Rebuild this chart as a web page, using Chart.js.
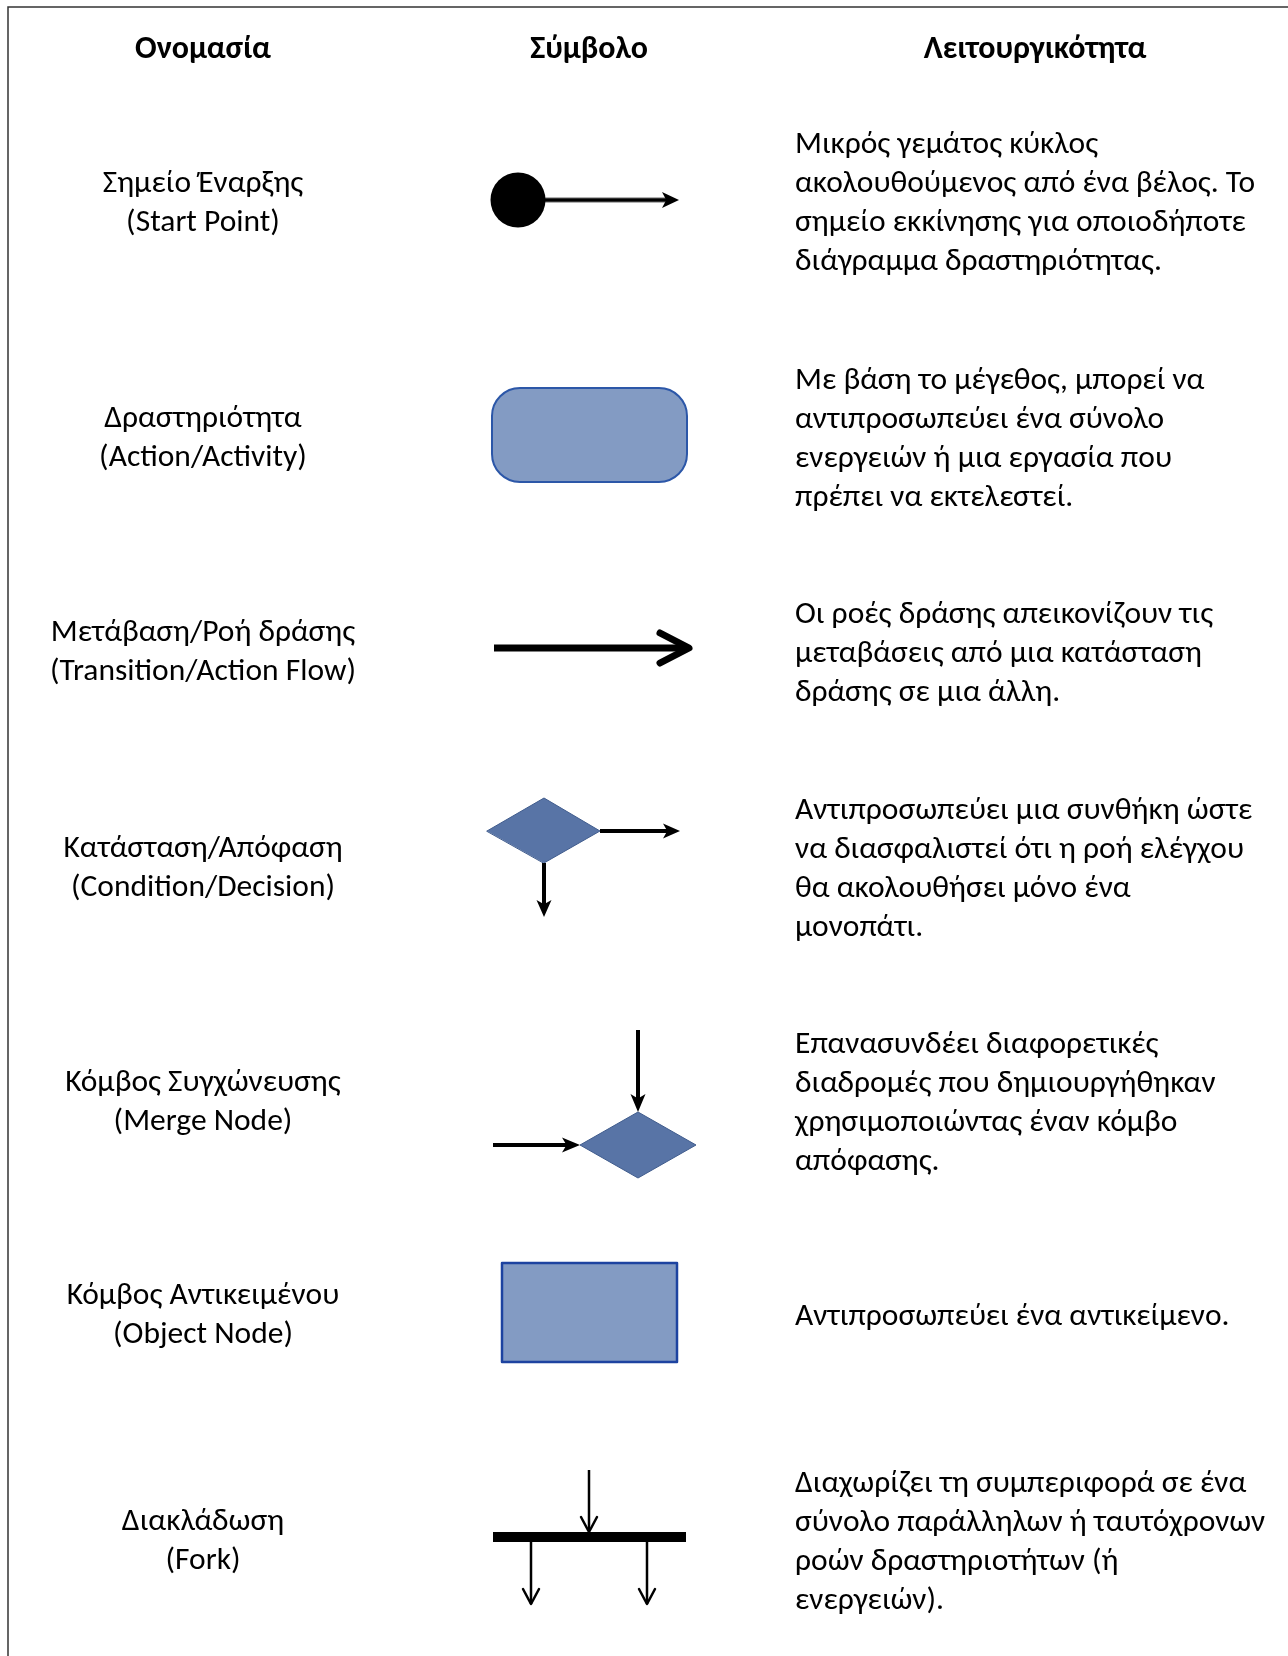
<!DOCTYPE html>
<html>
<head>
<meta charset="utf-8">
<script src="https://cdn.jsdelivr.net/npm/chart.js@4.4.0/dist/chart.umd.min.js"></script>
<style>
  html, body { margin: 0; padding: 0; background: #fff; }
  #wrap { width: 1288px; height: 1656px; position: relative; }
</style>
</head>
<body>
<div id="wrap"><canvas id="umlChart"></canvas></div>
<script>
// table content
const headers = ['Ονομασία', 'Σύμβολο', 'Λειτουργικότητα'];
const greekNames = ['Σημείο Έναρξης', 'Δραστηριότητα', 'Μετάβαση/Ροή δράσης', 'Κατάσταση/Απόφαση',
  'Κόμβος Συγχώνευσης', 'Κόμβος Αντικειμένου', 'Διακλάδωση'];
const englishNames = ['(Start Point)', '(Action/Activity)', '(Transition/Action Flow)', '(Condition/Decision)',
  '(Merge Node)', '(Object Node)', '(Fork)'];
const descriptions = [
  ['Μικρός γεμάτος κύκλος', 'ακολουθούμενος από ένα βέλος. Το', 'σημείο εκκίνησης για οποιοδήποτε', 'διάγραμμα δραστηριότητας.'],
  ['Με βάση το μέγεθος, μπορεί να', 'αντιπροσωπεύει ένα σύνολο', 'ενεργειών ή μια εργασία που', 'πρέπει να εκτελεστεί.'],
  ['Οι ροές δράσης απεικονίζουν τις', 'μεταβάσεις από μια κατάσταση', 'δράσης σε μια άλλη.'],
  ['Αντιπροσωπεύει μια συνθήκη ώστε', 'να διασφαλιστεί ότι η ροή ελέγχου', 'θα ακολουθήσει μόνο ένα', 'μονοπάτι.'],
  ['Επανασυνδέει διαφορετικές', 'διαδρομές που δημιουργήθηκαν', 'χρησιμοποιώντας έναν κόμβο', 'απόφασης.'],
  ['Αντιπροσωπεύει ένα αντικείμενο.'],
  ['Διαχωρίζει τη συμπεριφορά σε ένα', 'σύνολο παράλληλων ή ταυτόχρονων', 'ροών δραστηριοτήτων (ή', 'ενεργειών).']
];

// layout in axis units (the axes span the page 0..1288 x 0..1656)
const rowCenters = [204, 439, 653, 869, 1103, 1316, 1542];
const descTops = [145, 381, 615, 811, 1045, 1317, 1484];
const lineGap = 39;
const nameX = 203, descX = 795;
const headerY = 50, headerX = [203, 589, 1035];

const FONT = "Carlito, 'Noto Sans', sans-serif";
const LIGHT_FILL = '#839bc3', LIGHT_EDGE = '#2c57a8', DARK_FILL = '#5874a6';

function drawSymbols(ctx, X, Y) {
  const line = (pts, w, col, cap) => {
    ctx.beginPath();
    pts.forEach((p, i) => i ? ctx.lineTo(X(p[0]), Y(p[1])) : ctx.moveTo(X(p[0]), Y(p[1])));
    ctx.lineWidth = w; ctx.strokeStyle = col || '#000'; ctx.lineCap = cap || 'butt'; ctx.lineJoin = 'round';
    ctx.stroke();
  };
  const poly = (pts, fill, edge, w) => {
    ctx.beginPath();
    pts.forEach((p, i) => i ? ctx.lineTo(X(p[0]), Y(p[1])) : ctx.moveTo(X(p[0]), Y(p[1])));
    ctx.closePath();
    ctx.fillStyle = fill; ctx.fill();
    if (edge) { ctx.lineWidth = w; ctx.strokeStyle = edge; ctx.stroke(); }
  };
  // filled arrow head pointing in direction (dx,dy)
  const head = (tx, ty, dx, dy, len, half) => {
    const bx = tx - dx * len, by = ty - dy * len;
    poly([[tx, ty], [bx - dy * half, by + dx * half], [bx - dx * len * -0.25, by - dy * len * -0.25], [bx + dy * half, by - dx * half]], '#000');
  };
  const chevron = (tx, ty, dx, dy, len, half, w) => {
    const bx = tx - dx * len, by = ty - dy * len;
    line([[bx - dy * half, by + dx * half], [tx, ty], [bx + dy * half, by - dx * half]], w, '#000', 'round');
  };

  // 1. start point
  line([[518, 200], [668, 200]], 5, '#666');
  line([[518, 200], [668, 200]], 3, '#000');
  head(679, 200, 1, 0, 17, 8);
  ctx.beginPath(); ctx.arc(X(518), Y(200), 27.5, 0, Math.PI * 2); ctx.fillStyle = '#000'; ctx.fill();

  // 2. activity (rounded rectangle)
  ctx.beginPath();
  ctx.roundRect(X(492), Y(388), X(687) - X(492), Y(482) - Y(388), 28);
  ctx.fillStyle = LIGHT_FILL; ctx.fill();
  ctx.lineWidth = 2; ctx.strokeStyle = LIGHT_EDGE; ctx.stroke();

  // 3. transition
  line([[494, 648], [684, 648]], 7, '#000');
  chevron(689, 648, 1, 0, 29, 15, 7);

  // 4. decision
  poly([[487, 831], [544, 798], [600, 831], [544, 863]], DARK_FILL, '#3f5b8c', 1);
  line([[600, 831], [668, 831]], 4, '#000');
  head(680, 831, 1, 0, 17, 7.5);
  line([[544, 863], [544, 905]], 4, '#000');
  head(544, 917, 0, 1, 17, 7.5);

  // 5. merge node
  poly([[580, 1145], [638, 1112], [696, 1145], [638, 1178]], DARK_FILL, '#3f5b8c', 1);
  line([[638, 1030], [638, 1100]], 4, '#000');
  head(638, 1112, 0, 1, 18, 7.5);
  line([[493, 1145], [568, 1145]], 4, '#000');
  head(580, 1145, 1, 0, 18, 7.5);

  // 6. object node
  ctx.fillStyle = LIGHT_FILL;
  ctx.fillRect(X(502), Y(1263), X(677) - X(502), Y(1362) - Y(1263));
  ctx.lineWidth = 2.5; ctx.strokeStyle = '#1d43a0';
  ctx.strokeRect(X(502), Y(1263), X(677) - X(502), Y(1362) - Y(1263));

  // 7. fork
  ctx.fillStyle = '#000';
  ctx.fillRect(X(493), Y(1532), X(686) - X(493), Y(1542) - Y(1532));
  line([[589, 1470], [589, 1531]], 2.5, '#000');
  chevron(589, 1532, 0, 1, 15, 8, 2.5);
  [531, 647].forEach(x => {
    line([[x, 1542], [x, 1604]], 2.5, '#000');
    chevron(x, 1604, 0, 1, 15, 8, 2.5);
  });
}

const tablePlugin = {
  id: 'umlTable',
  afterDraw(chart) {
    const ctx = chart.ctx;
    const xs = chart.scales.x, ys = chart.scales.y;
    const X = v => xs.getPixelForValue(v), Y = v => ys.getPixelForValue(v);
    ctx.save();

    // frame
    ctx.strokeStyle = '#333'; ctx.lineWidth = 1.5;
    ctx.beginPath();
    ctx.moveTo(X(8), Y(1656)); ctx.lineTo(X(8), Y(7)); ctx.lineTo(X(1288), Y(7));
    ctx.stroke();

    ctx.fillStyle = '#000';
    ctx.textBaseline = 'middle';
    ctx.font = `bold 32px ${FONT}`;
    ctx.textAlign = 'center';
    headers.forEach((h, i) => ctx.fillText(h, X(headerX[i]), Y(headerY)));

    ctx.font = `31.5px ${FONT}`;
    rowCenters.forEach((cy, i) => {
      ctx.textAlign = 'center';
      ctx.fillText(greekNames[i], X(nameX), Y(cy - 20));
      ctx.fillText(englishNames[i], X(nameX), Y(cy + 19));
      ctx.textAlign = 'left';
      descriptions[i].forEach((t, j) => ctx.fillText(t, X(descX), Y(descTops[i] + j * lineGap)));
    });

    drawSymbols(ctx, X, Y);
    ctx.restore();
  }
};

new Chart(document.getElementById('umlChart'), {
  type: 'scatter',
  data: { datasets: [{ data: [], pointRadius: 0 }] },
  options: {
    responsive: true,
    maintainAspectRatio: false,
    animation: false,
    layout: { padding: 0 },
    plugins: { legend: { display: false }, tooltip: { enabled: false } },
    scales: {
      x: { type: 'linear', min: 0, max: 1288, display: false },
      y: { type: 'linear', min: 0, max: 1656, reverse: true, display: false }
    }
  },
  plugins: [tablePlugin]
});
</script>
</body>
</html>
